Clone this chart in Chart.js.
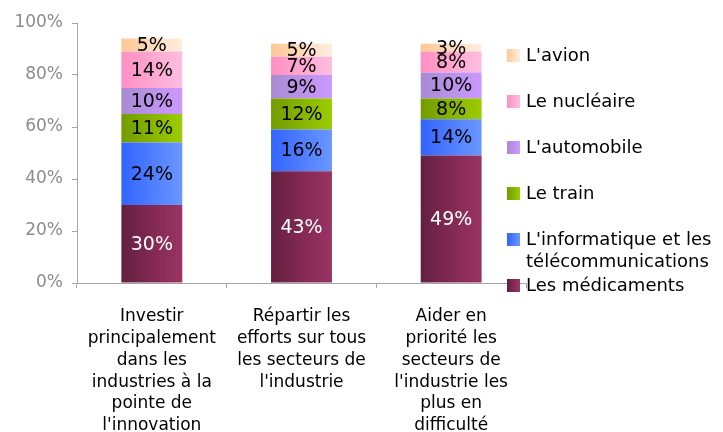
<!DOCTYPE html>
<html>
<head>
<meta charset="utf-8">
<script src="https://cdn.jsdelivr.net/npm/chart.js@4/dist/chart.umd.min.js"></script>
<style>
  html, body { margin: 0; padding: 0; background: #fff; }
  #wrap { width: 723px; height: 432px; }
</style>
</head>
<body>
<div id="wrap"><canvas id="c" width="723" height="432"></canvas></div>
<script>
// Categories (policy options)
const categories = [
  ["Investir", "principalement", "dans les", "industries à la", "pointe de", "l'innovation"],
  ["Répartir les", "efforts sur tous", "les secteurs de", "l'industrie"],
  ["Aider en", "priorité les", "secteurs de", "l'industrie les", "plus en", "difficulté"]
];

// Series names, bottom to top
const seriesNames = [
  "Les médicaments",
  "L'informatique et les télécommunications",
  "Le train",
  "L'automobile",
  "Le nucléaire",
  "L'avion"
];

// Values (%) per series, one per category
const medicaments   = [30, 43, 49];
const informatique  = [24, 16, 14];
const train         = [11, 12, 8];
const automobile    = [10, 9, 10];
const nucleaire     = [14, 7, 8];
const avion         = [5, 5, 3];

const yTicks = [0, 20, 40, 60, 80, 100];

// Horizontal gradient stops for each series
const gradients = [
  [[0, '#63203f'], [0.55, '#852a53'], [1, '#9a3464']],
  [[0, '#3264ff'], [1, '#6b97ff']],
  [[0, '#729c00'], [1, '#9ccc00']],
  [[0, '#a88bd2'], [1, '#cc99ff']],
  [[0, '#ff8fc2'], [1, '#ffbde0']],
  [[0, '#ffc894'], [1, '#ffeedf']]
];
const baseColors = ['#852a53', '#4f7eff', '#8ab400', '#b890e8', '#ffa6d0', '#ffdcbc'];

const seriesValues = [medicaments, informatique, train, automobile, nucleaire, avion];
const FONT = "'DejaVu Sans', Verdana, sans-serif";
const BAR_PCT = 0.407;

function makeGradient(ctx, x0, x1, stops) {
  const g = ctx.createLinearGradient(x0, 0, x1, 0);
  stops.forEach(s => g.addColorStop(s[0], s[1]));
  return g;
}

function barFill(context) {
  const chart = context.chart;
  const xs = chart.scales && chart.scales.x;
  const i = context.datasetIndex;
  if (!chart.chartArea || !xs || context.dataIndex === undefined) return baseColors[i];
  const cx = xs.getPixelForValue(context.dataIndex);
  const w = (chart.chartArea.right - chart.chartArea.left) / categories.length * BAR_PCT;
  return makeGradient(chart.ctx, cx - w / 2, cx + w / 2, gradients[i]);
}

const datasets = seriesNames.map((name, i) => ({
  label: name,
  data: seriesValues[i],
  backgroundColor: barFill,
  borderWidth: 0,
  barPercentage: BAR_PCT,
  categoryPercentage: 1
}));

// Value labels inside each segment
const valueLabels = {
  id: 'valueLabels',
  afterDatasetsDraw(chart) {
    const ctx = chart.ctx;
    ctx.save();
    ctx.font = "19px " + FONT;
    ctx.textAlign = 'center';
    ctx.textBaseline = 'middle';
    chart.data.datasets.forEach((ds, di) => {
      const meta = chart.getDatasetMeta(di);
      ctx.fillStyle = di === 0 ? '#ffffff' : '#000000';
      meta.data.forEach((el, j) => {
        const y = (el.y + el.base) / 2;
        ctx.fillText(ds.data[j] + '%', el.x, y + 1);
      });
    });
    ctx.restore();
  }
};

// Legend on the right, top item = last series
const sideLegend = {
  id: 'sideLegend',
  afterDraw(chart) {
    const ctx = chart.ctx;
    const area = chart.chartArea;
    const boxX = area.right - 19, box = 13;
    const textX = boxX + 19;
    const maxW = chart.width - textX + 2;
    const top = 55, step = 46;
    ctx.save();
    ctx.font = "18px " + FONT;
    ctx.textBaseline = 'middle';
    ctx.textAlign = 'left';
    const n = chart.data.datasets.length;
    for (let k = 0; k < n; k++) {
      const di = n - 1 - k;
      const y = top + k * step;
      ctx.fillStyle = makeGradient(ctx, boxX, boxX + box, gradients[di]);
      ctx.fillRect(boxX, Math.round(y - box / 2), box, box);
      // word wrap
      const words = chart.data.datasets[di].label.split(' ');
      const lines = [];
      let line = '';
      words.forEach(w => {
        const t = line ? line + ' ' + w : w;
        if (ctx.measureText(t).width > maxW && line) { lines.push(line); line = w; }
        else line = t;
      });
      lines.push(line);
      ctx.fillStyle = '#000000';
      lines.forEach((l, li) => ctx.fillText(l, textX, y + 1 + li * 22));
    }
    ctx.restore();
  }
};

new Chart(document.getElementById('c'), {
  type: 'bar',
  data: { labels: categories, datasets },
  plugins: [valueLabels, sideLegend],
  options: {
    responsive: false,
    animation: false,
    layout: { padding: { top: 23, right: 197, left: 0, bottom: 0 } },
    plugins: { legend: { display: false }, tooltip: { enabled: false } },
    scales: {
      x: {
        stacked: true,
        afterFit(scale) { scale.height = 149; },
        grid: { display: true, drawOnChartArea: false, color: '#a6a6a6', tickLength: 5, offset: true },
        border: { color: '#a6a6a6', width: 1 },
        ticks: {
          color: '#000000',
          font: { family: FONT, size: 17, lineHeight: 1.28 },
          padding: 18,
          maxRotation: 0,
          autoSkip: false
        }
      },
      y: {
        stacked: true,
        min: 0,
        max: 100,
        afterFit(scale) { scale.width = 77; },
        afterBuildTicks(scale) { scale.ticks = yTicks.map(v => ({ value: v })); },
        grid: { display: true, drawOnChartArea: false, color: '#a6a6a6', tickLength: 5 },
        border: { color: '#a6a6a6', width: 1 },
        ticks: {
          color: '#8c8c8c',
          font: { family: FONT, size: 17 },
          padding: 9,
          callback: v => v + '%'
        }
      }
    }
  }
});
</script>
</body>
</html>
